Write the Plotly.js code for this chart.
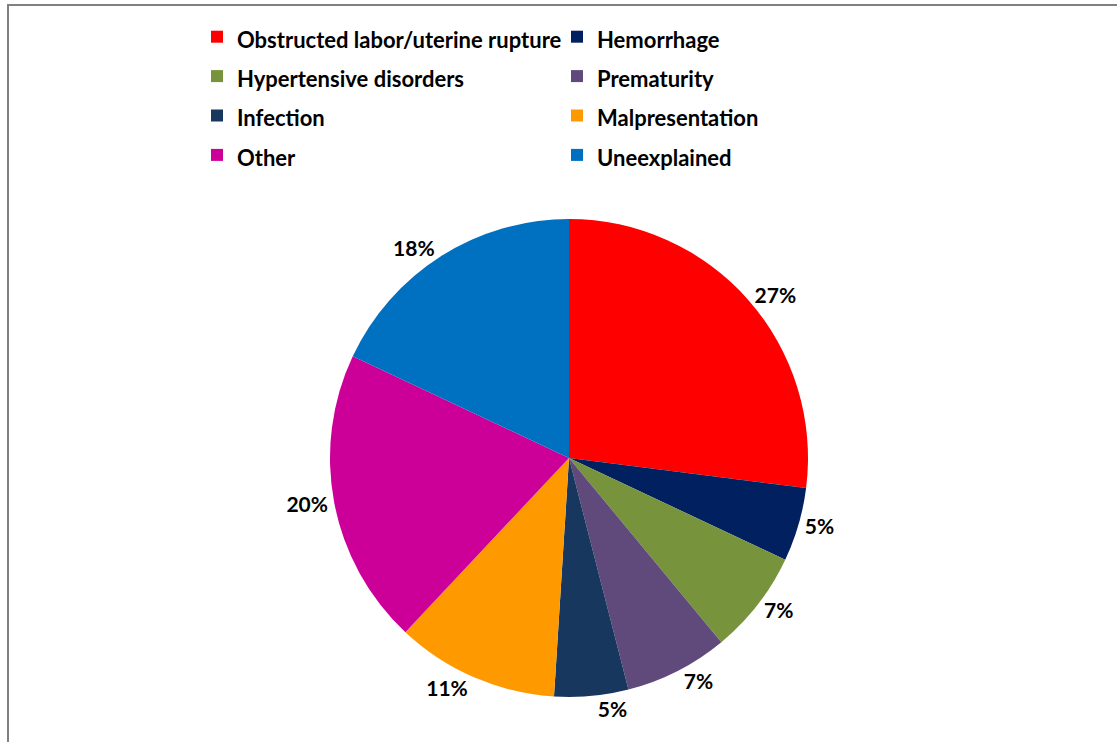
<!DOCTYPE html>
<html>
<head>
<meta charset="utf-8">
<script src="https://cdn.plot.ly/plotly-3.0.1.min.js"></script>
<style>html,body{margin:0;padding:0;background:#fff;}#chart{width:1117px;height:742px;}</style>
</head>
<body>
<div id="chart"></div>
<script>
const categories = ["Obstructed labor/uterine rupture", "Hemorrhage", "Hypertensive disorders", "Prematurity", "Infection", "Malpresentation", "Other", "Uneexplained"];
const shares = [27, 5, 7, 7, 5, 11, 20, 18];
const sliceColors = ["#FF0000", "#002060", "#77933C", "#604A7B", "#17375E", "#FF9900", "#CC0099", "#0070C0"];

const W = 1117, H = 742;
const mL = 180, mR = 180, mT = 0, mB = 0;
const pw = W - mL - mR, ph = H - mT - mB;
const px = x => (x - mL) / pw;
const py = y => 1 - (y - mT) / ph;

const cx = 569, cy = 458, r = 239;

const trace = {
  type: "pie",
  labels: categories.map(c => '<span style="font-size:22px">' + c + '</span>'),
  values: shares,
  sort: false,
  direction: "clockwise",
  rotation: 0,
  marker: {colors: sliceColors, line: {width: 0}},
  textinfo: "percent",
  texttemplate: "%{percent:.0%}",
  textposition: "outside",
  outsidetextfont: {family: "Lato, sans-serif", size: 21, color: "#000", weight: "bold"},
  domain: {x: [px(cx - r), px(cx + r)], y: [py(cy + r), py(cy - r)]},
  hoverinfo: "label+percent"
};

const layout = {
  width: W, height: H,
  margin: {l: mL, r: mR, t: mT, b: mB},
  paper_bgcolor: "#fff",
  showlegend: true,
  legend: {
    orientation: "h",
    x: px(197), xanchor: "left",
    y: py(12), yanchor: "top",
    entrywidth: 315, entrywidthmode: "pixels",
    font: {family: "Lato, sans-serif", size: 28, color: "#000", weight: "bold"},
    bgcolor: "rgba(0,0,0,0)",
    traceorder: "normal"
  },
  shapes: [
    {type: "line", xref: "paper", yref: "paper", x0: px(7), x1: px(1117), y0: py(5), y1: py(5), line: {color: "#808080", width: 2}},
    {type: "line", xref: "paper", yref: "paper", x0: px(8), x1: px(8), y0: py(4), y1: py(742), line: {color: "#808080", width: 2}}
  ]
};

Plotly.newPlot("chart", [trace], layout, {displayModeBar: false, staticPlot: true});
</script>
</body>
</html>
